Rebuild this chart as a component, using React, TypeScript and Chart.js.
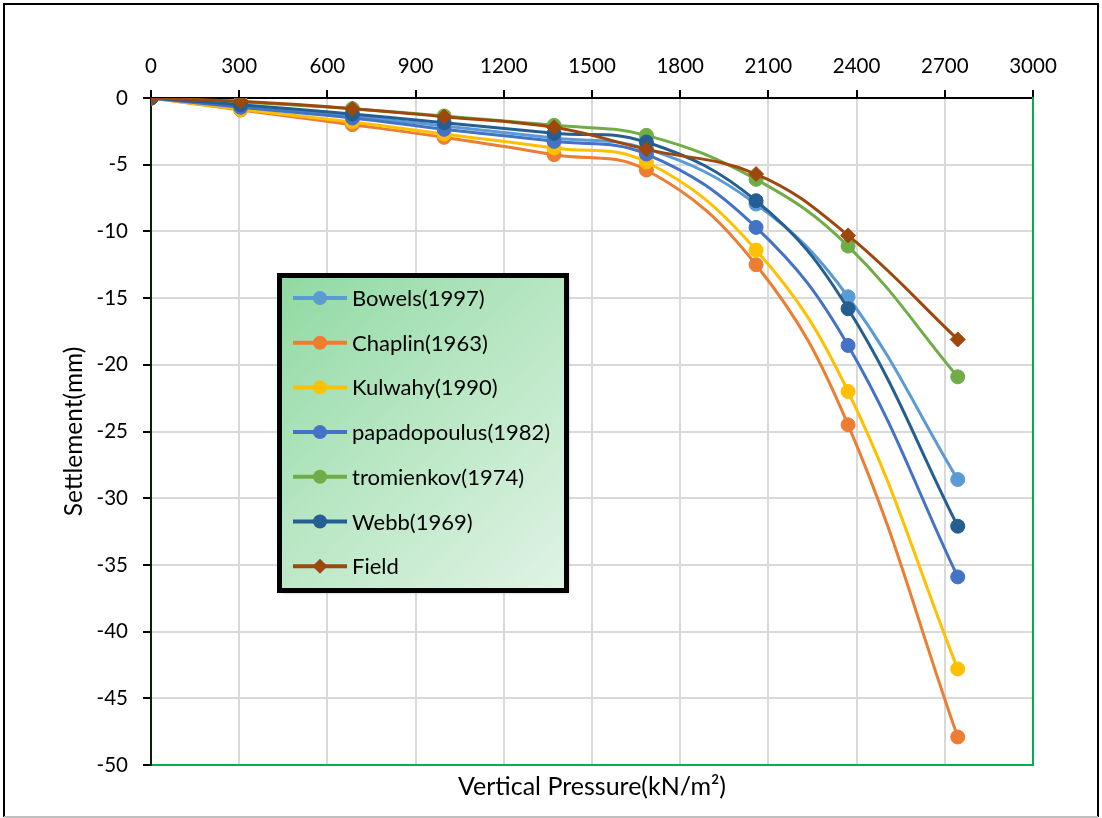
import React, { useEffect, useRef } from "react";
import { Chart, registerables } from "chart.js";

Chart.register(...registerables);

// ---- data ----
const pressures = [0, 305, 685, 997, 1371, 1685, 2058, 2371, 2744];
const bowels = [0, -0.6, -1.35, -2.1, -3.0, -3.8, -7.95, -14.9, -28.6];
const chaplin = [0, -0.9, -2.0, -2.95, -4.25, -5.4, -12.5, -24.5, -47.9];
const kulwahy = [0, -0.85, -1.8, -2.7, -3.75, -4.8, -11.4, -22.0, -42.8];
const papadopoulus = [0, -0.7, -1.5, -2.35, -3.25, -4.2, -9.7, -18.55, -35.9];
const tromienkov = [0, -0.3, -0.8, -1.35, -2.05, -2.8, -6.1, -11.1, -20.9];
const webb = [0, -0.5, -1.2, -1.85, -2.65, -3.3, -7.7, -15.8, -32.1];
const field = [0, -0.25, -0.8, -1.4, -2.2, -3.85, -5.7, -10.3, -18.1];

const seriesNames = [
  "Bowels(1997)",
  "Chaplin(1963)",
  "Kulwahy(1990)",
  "papadopoulus(1982)",
  "tromienkov(1974)",
  "Webb(1969)",
  "Field",
];
const seriesValues = [bowels, chaplin, kulwahy, papadopoulus, tromienkov, webb, field];
const seriesColors = ["#5B9BD5", "#ED7D31", "#FFC000", "#4472C4", "#70AD47", "#255E91", "#9E480E"];
const seriesMarkers = ["circle", "circle", "circle", "circle", "circle", "circle", "rectRot"];

const xMin = 0;
const xMax = 3000;
const xStep = 300;
const yMin = -50;
const yMax = 0;
const yStep = 5;

const xTitle = "Vertical Pressure(kN/m²)";
const yTitle = "Settlement(mm)";

const FONT = "Lato, 'Liberation Sans', sans-serif";

const W = 1102;
const H = 818;

const frame = { left: 151, top: 98, right: 1033, bottom: 765 };
const legendBox = { x: 279.5, y: 275.5, w: 287, h: 315, rowStart: 298, rowGap: 44.7 };

const outerPlugin = {
  id: "outerFrame",
  beforeDraw(chart: any) {
    const ctx = chart.ctx;
    ctx.save();
    ctx.fillStyle = "#ffffff";
    ctx.fillRect(0, 0, chart.width, chart.height);
    ctx.restore();
  },
  afterDraw(chart: any) {
    const ctx = chart.ctx;
    ctx.save();
    ctx.lineWidth = 2;
    ctx.strokeStyle = "#000000";
    ctx.beginPath();
    ctx.moveTo(4, 817);
    ctx.lineTo(4, 4);
    ctx.lineTo(1098, 4);
    ctx.lineTo(1098, 817);
    ctx.stroke();
    ctx.strokeStyle = "#bfbfbf";
    ctx.beginPath();
    ctx.moveTo(4, 817);
    ctx.lineTo(1098, 817);
    ctx.stroke();
    ctx.restore();
  },
};

const legendPlugin = {
  id: "boxLegend",
  afterDatasetsDraw(chart: any) {
    const ctx = chart.ctx;
    const { x, y, w, h, rowStart, rowGap } = legendBox;
    ctx.save();
    const g = ctx.createLinearGradient(x, y, x + w, y + h);
    g.addColorStop(0, "#8fd9a2");
    g.addColorStop(0.45, "#b6e6c2");
    g.addColorStop(1, "#e0f3e5");
    ctx.shadowColor = "rgba(0,0,0,0.35)";
    ctx.shadowOffsetX = 2;
    ctx.shadowOffsetY = 2;
    ctx.shadowBlur = 3;
    ctx.fillStyle = g;
    ctx.fillRect(x, y, w, h);
    ctx.shadowColor = "transparent";
    ctx.lineWidth = 5;
    ctx.strokeStyle = "#000000";
    ctx.strokeRect(x, y, w, h);

    ctx.font = `22px ${FONT}`;
    ctx.textBaseline = "middle";
    ctx.textAlign = "left";
    chart.data.datasets.forEach((ds: any, i: number) => {
      const cy = rowStart + i * rowGap;
      ctx.strokeStyle = ds.borderColor;
      ctx.lineWidth = 4;
      ctx.beginPath();
      ctx.moveTo(293, cy);
      ctx.lineTo(347, cy);
      ctx.stroke();
      ctx.fillStyle = ds.borderColor;
      ctx.beginPath();
      if (ds.pointStyle === "rectRot") {
        const r = 7.5;
        ctx.moveTo(320 - r, cy);
        ctx.lineTo(320, cy - r);
        ctx.lineTo(320 + r, cy);
        ctx.lineTo(320, cy + r);
        ctx.closePath();
      } else {
        ctx.arc(320, cy, 7, 0, Math.PI * 2);
      }
      ctx.fill();
      ctx.fillStyle = "#000000";
      ctx.fillText(ds.label, 352, cy + 1);
    });
    ctx.restore();
  },
};

export default function App() {
  const ref = useRef<HTMLCanvasElement | null>(null);

  useEffect(() => {
    if (!ref.current) return;
    const datasets = seriesNames.map((name, i) => ({
      label: name,
      data: pressures.map((p, j) => ({ x: p, y: seriesValues[i][j] })),
      borderColor: seriesColors[i],
      backgroundColor: seriesColors[i],
      pointBackgroundColor: seriesColors[i],
      pointBorderColor: seriesColors[i],
      pointStyle: seriesMarkers[i],
      pointRadius: seriesMarkers[i] === "rectRot" ? 7.5 : 7,
      pointBorderWidth: 1,
      borderWidth: 3,
      tension: 0.4,
      fill: false,
      order: seriesNames.length - i,
    }));

    const chart = new Chart(ref.current, {
      type: "line",
      data: { datasets },
      plugins: [outerPlugin, legendPlugin],
      options: {
        animation: false,
        responsive: false,
        layout: { padding: 0 },
        plugins: {
          legend: { display: false },
          tooltip: { enabled: false },
        },
        scales: {
          x: {
            type: "linear",
            position: "top",
            min: xMin,
            max: xMax,
            afterFit: (s: any) => {
              s.height = frame.top;
            },
            ticks: {
              stepSize: xStep,
              padding: 11,
              color: "#000000",
              font: { family: FONT, size: 20.5 },
              callback: (v: any) => String(v),
              maxRotation: 0,
            },
            grid: {
              color: "#d9d9d9",
              lineWidth: 2,
              tickColor: "#000000",
              tickLength: 8,
              tickWidth: 2,
            },
            border: { display: true, color: "#000000", width: 2 },
          },
          x2: {
            type: "linear",
            position: "bottom",
            min: xMin,
            max: xMax,
            afterFit: (s: any) => {
              s.height = H - frame.bottom;
            },
            ticks: { display: false, stepSize: xStep },
            grid: { display: false },
            border: { display: true, color: "#00B050", width: 2 },
            title: {
              display: true,
              text: xTitle,
              color: "#000000",
              font: { family: FONT, size: 25 },
              padding: { top: 0, bottom: 16 },
            },
          },
          y: {
            type: "linear",
            position: "left",
            min: yMin,
            max: yMax,
            afterFit: (s: any) => {
              s.width = frame.left;
            },
            ticks: {
              stepSize: yStep,
              padding: 15,
              color: "#000000",
              font: { family: FONT, size: 20.5 },
              callback: (v: any) => String(v),
            },
            grid: {
              color: "#d9d9d9",
              lineWidth: 2,
              tickColor: "#000000",
              tickLength: 8,
              tickWidth: 2,
            },
            border: { display: true, color: "#0a1f10", width: 2 },
            title: {
              display: true,
              text: yTitle,
              color: "#000000",
              font: { family: FONT, size: 24.5 },
              padding: { top: 59, bottom: 0 },
            },
          },
          y2: {
            type: "linear",
            position: "right",
            min: yMin,
            max: yMax,
            afterFit: (s: any) => {
              s.width = W - frame.right;
            },
            ticks: { display: false, stepSize: yStep },
            grid: { display: false },
            border: { display: true, color: "#00B050", width: 2 },
          },
        },
      } as any,
    });

    return () => chart.destroy();
  }, []);

  return (
    <div style={{ position: "absolute", left: 0, top: 0, width: W, height: H }}>
      <canvas ref={ref} width={W} height={H} style={{ width: W, height: H, display: "block" }} />
    </div>
  );
}
